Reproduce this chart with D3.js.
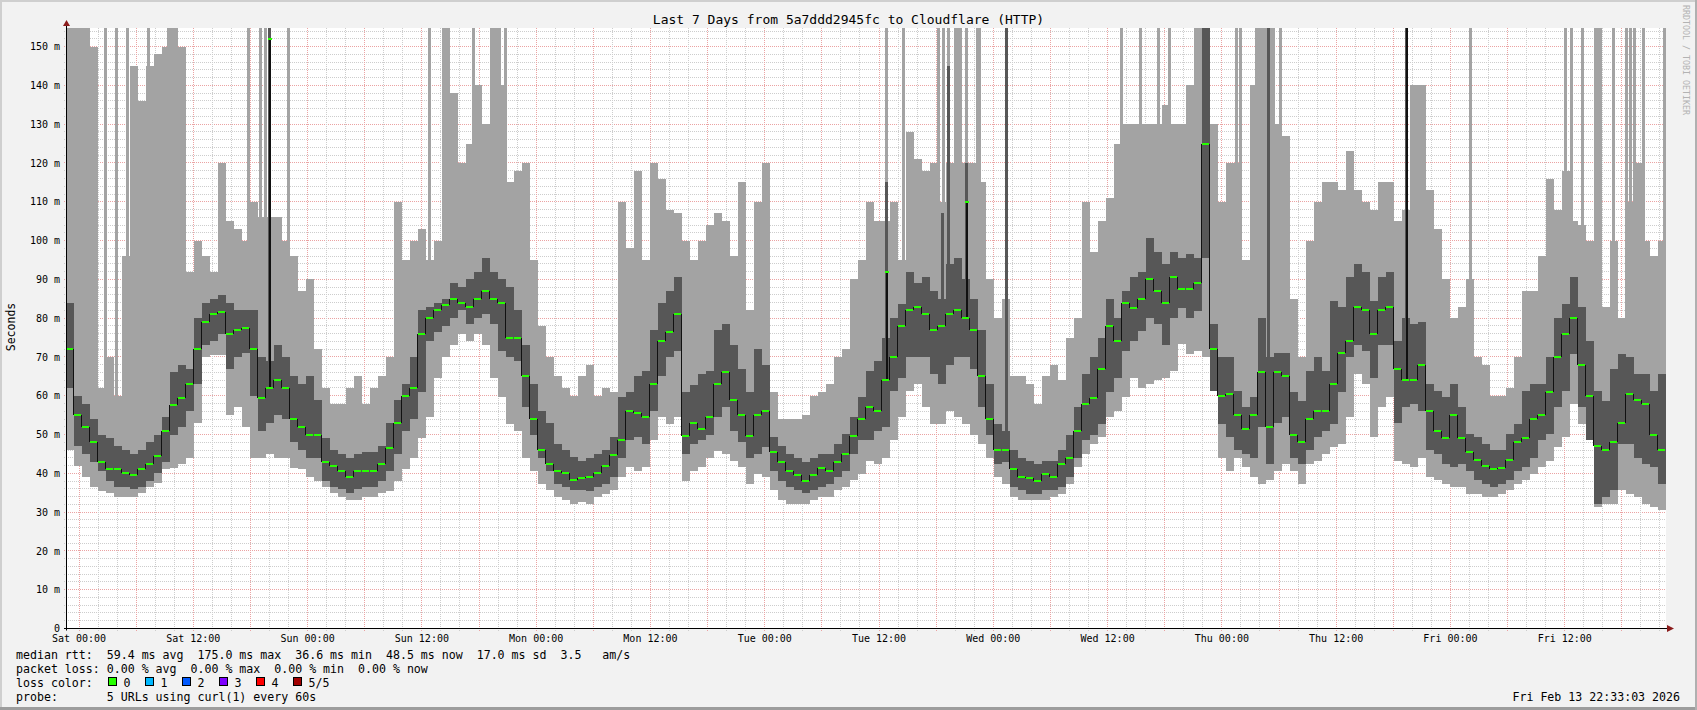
<!DOCTYPE html>
<html>
<head>
<meta charset="utf-8">
<title>SmokePing - Last 7 Days</title>
<script src="https://cdn.jsdelivr.net/npm/d3@7/dist/d3.min.js"></script>
<style>
html,body{margin:0;padding:0;background:#f2f2f2;overflow:hidden;}
svg{display:block;}
text{font-family:"DejaVu Sans Mono",monospace;white-space:pre;}
</style>
</head>
<body>
<svg id="chart" width="1697" height="710"></svg>
<script>
// ---------------- DATA ----------------
const chartTitle = "Last 7 Days from 5a7ddd2945fc to Cloudflare (HTTP)";
const startTime = new Date(2026, 1, 6, 22, 38, 0);
const endTime = new Date(2026, 1, 13, 22, 38, 0);
const yMax = 154.8;                       // ms at top of canvas
const yTickValues = [0,10,20,30,40,50,60,70,80,90,100,110,120,130,140,150];

// 200 time bins (~50 min each), values in ms
const rttMedian = [
72,55,52,48,43,41,41,40,39.5,41,
42.5,44.5,51,57.5,59.5,63,72,79,81,81.5,
76,77,77.5,72,59.5,62,64,62,54,52,
50,50,43,42,40.5,39,40.5,40.5,40.5,42.5,
46.5,53,60,62,76,80,82,83.5,85,84,
83,85,87,85,84,75,75,65,54,46,
42.5,40.5,40,38.3,38.8,39,40.2,41.8,44.6,48.5,
56,55.5,54.5,63,74,76.5,81,49.5,53,51.5,
54.5,63,66,59,55,49.5,55,56,45.5,43,
40.5,39.5,38,39.6,41.3,40.5,43,45,49.7,54,
57,56,64,70,78,82,83,81,77,78,
81,82,80,77,65,54,46,46,41,39,
38.8,38,39.8,39,42.5,44,51,58,59.4,67,
78,74,84,82.5,85,90,87,84,90.5,87.5,
87.5,89,125,72,60,60.5,55,51.5,55,66,
52,66,65,50,48,54,56,56,63,71,
74,83,82,76,82,83,67,64,64,68,
56,51,49,55,49,45.5,43.5,42,41,41.5,
43.5,48,49,54,55,61,70,76,80,68,
60,47,46,48,53,60.5,59,58,50,46
];
const smokeInnerHi = [
84,60,58,54,50,49,47,46,45,46,
48,50,54.5,66,68,67,80,84,85,86,
84,82,82,82,70,69,73,70,65,63,
65,59,49,46,45,44,45,45.5,45.5,47,
53,59,63,70,82,83,84,85,89,88,
90,92,95.5,92,90,88,82,73,63,56,
53,47.6,46,44.2,43.3,44,45,46,49.3,59.6,
61,65,66.5,77,84,87,90.5,61,62.8,65.5,
66.5,77,78.4,73,67,61,72,68,49.3,47,
45,44,43,44,45,45,47.6,50.2,54.5,59.6,
66.5,69,75,80,83.6,92,89,90.5,87,85,
94,95.5,90,85,77,63,52.7,51,46,44,
43.3,42.5,43.3,43.3,46,50,57,65.6,70,75,
85,80,87,90.5,92,100.7,97,94,97,95.6,
96.5,95.6,155,78.4,70,70,61.3,57,59.6,80,
70,71,71,61,58.7,66.5,70,66.5,84.5,83,
90.5,94,92,84.5,90.5,92,74,80,78.4,79,
63,61.3,59.6,63,57,50.2,49.3,47.6,46,46,
50.2,52.7,61.3,63,63,70,80,83.6,90.5,83,
74,61.3,58.7,67,70.7,70,65.6,65.6,61.3,65.6
];
const smokeInnerLo = [
62,47,45,43,40.5,38,36.5,36.5,36,36.5,
38,40,43,50,52,56,63,73,74,76,
67,70,71,60,51,53,55,54,48,46,
44,44,38,36.5,36,35,36,36.5,36.5,38,
40.5,45,51,54,61,74,76.5,78,80,82,
78.5,80,81,78.5,71.5,70,69,57,50,44,
40.5,37.3,36.5,35.6,35.6,35.5,36.5,37.3,39,44,
48.5,49.3,47.6,56,65,70,71.5,45,47.6,48.5,
50,54.5,57,51,48,44,45,46.7,40.7,38,
36.5,35.6,35,35.6,36.5,37.3,39,40.7,45,48.5,
48.5,51,52,61.3,64.7,70,70,70,65.6,63,
68,70,70,67,57,50,42.5,43,36.5,35.6,
34.8,34.8,35.6,35.6,36.5,39,44,48.5,50,52.7,
61,64.7,71.6,74,76.7,80,78.4,73,80,82.7,
80,81.9,95.6,61.3,52.7,49.3,46,45,44,52,
42.5,53,54.5,44,42.5,46,49.3,51,52.7,61,
70,73,71.6,64.7,73,73,53,57,58,56,
46,45,42.5,41.6,42.5,40.7,38.2,37.3,36.5,37.3,
38.2,40.7,41.6,44,48.5,50.2,57,61.3,70.7,57,
48.5,32.2,33.9,35.6,47.6,47.6,44,42.5,41.6,37.3
];
const smokeMin = [
46,42,39,36.5,35.5,35,34,34,34,35,
36.5,37.5,41,41.5,42.5,44,53,70,70.5,70.5,
55,57,52,44,44,45,44,44,41.5,41,
39,38,36.5,35,34,33,33,34,34,35,
35.5,38,41,44,49,54.5,64.5,70,73,76,
74,76,73,64.7,59.6,52.7,51,44,40.7,37.3,
35.6,33.9,33,32.2,32.6,32.2,33.9,34.7,35.6,39,
41.6,40.7,41.6,48.5,54.5,52.7,54.5,38,40.7,41.6,
44,45.8,45,43.3,41.6,37.3,39.9,39,35.6,33,
32.2,32.2,32.2,33,33.9,33.9,35.6,36.5,38.2,39.9,
43.3,42.5,44,48.5,54.5,61.3,63,57,52.7,52.7,
56,54.5,52.7,50,47.6,44,39,37.3,34,33,
33,33,33,34,34.8,37.3,41.6,45,47.6,49.3,
54.5,56,59.6,64.7,62,63,64,64.7,66.5,73.3,
70.7,71.6,70,61.3,44,40.7,44,41.6,39,37.3,
38.2,40.7,42.5,40.7,37.3,42.5,43.3,45,46.7,47.6,
54.5,65.6,63,49.3,57,59.6,43.3,42.5,41.6,44,
39,38.2,37.3,36.5,36.5,34.8,34.8,34,34,34.8,
35.6,37.3,38.2,39.9,41.6,43.3,46.7,49.3,57.9,52.7,
50.2,31.4,32.2,32.2,35.6,34.8,34,32.2,31.4,30.5
];
const smokeMax = [
155,155,155,150,62,70,60,96,145,136,
145,148,150,155,150,92,100,96,92,120,
105,103,100,110,106,106,106,100,96,87,
90,72,62,58,58,62,65,58,62,65,
70,110,95,100,103,95,100,155,138,120,
125,140,130,155,140,115,118,120,95,78,
70,65,62,60,65,68,60,62,61,110,
98,118,95,120,116,108,107,100,95,100,
104,107,105,96,115,82,110,120,61,54,
54,54,55,60,61,63,70,72,90,95,
110,105,105,110,95,128,121,118,120,110,
120,155,120,120,115,90,80,85,65,65,
63,58,65,68,64,75,80,110,97,105,
111,125,130,130,130,130,130,135,130,130,
140,155,155,130,110,120,120,95,140,155,
155,130,127,85,70,100,110,115,115,113,
123,113,110,108,115,115,105,108,140,140,
113,103,90,80,83,90,70,68,60,60,
62,70,87,87,96,116,108,118,105,104,
100,155,83,100,80,110,120,100,96,100
];
// thin smoke spikes reaching the top of the graph (hours since start)
const smokeSpikeHours = [4.17,5.25,6.41,8.66,10.76,19.18,20.37,20.98,21.32,23.31,38.17,42.74,45.47,46.16,
  86.10,87.95,91.61,92.16,92.61,94.50,95.66,95.87,110.78,112.77,114.66,115.82,122.85,123.33,124.95,
  126.74,127.47,147.42,157.40,158.03,159.18,162.44,163.80,164.22,164.64,165.59,167.79];
// thin dark (inner smoke) spikes: hour, top value (ms), median peak (ms, or null)
const darkSpikeHours = [21.32, 86.10, 92.00, 92.61, 94.50, 98.70, 126.16, 140.70];
const darkSpikeTop   = [155, 115, 107, 145, 120, 155, 155, 155];
const darkSpikeMedian= [152, 92, null, null, 110, null, null, 160];

const legendRtt = "median rtt:  59.4 ms avg  175.0 ms max  36.6 ms min  48.5 ms now  17.0 ms sd  3.5   am/s";
const legendLoss = "packet loss: 0.00 % avg  0.00 % max  0.00 % min  0.00 % now";
const legendColorTitle = "loss color:";
const lossLabels = ["0","1","2","3","4","5/5"];
const lossColors = ["#26ff00","#00b8ff","#0059ff","#7e00ff","#ff0000","#a10000"];
const legendProbe = "probe:       5 URLs using curl(1) every 60s";
const stampText = "Fri Feb 13 22:33:03 2026";
const watermark = "RRDTOOL / TOBI OETIKER";
const yAxisTitle = "Seconds";

// ---------------- DRAWING ----------------
const W = 1697, H = 710;
const P = {left: 66, right: 1666, top: 28, bottom: 628.5};
const svg = d3.select("#chart");
const x = d3.scaleTime().domain([startTime, endTime]).range([P.left, P.right]);
const y = d3.scaleLinear().domain([0, yMax]).range([P.bottom, P.top]);
const n = rttMedian.length;
const binMs = (endTime - startTime) / n;
const bx = i => x(new Date(+startTime + i * binMs));
const hx = h => x(new Date(+startTime + h * 3600e3));
const binOfHour = h => Math.min(n - 1, Math.floor(h * 3600e3 / binMs));
const cy = v => y(Math.min(v, yMax));

// background + frame
svg.append("rect").attr("width", W).attr("height", H).attr("fill", "#f2f2f2");
svg.append("rect").attr("x",0).attr("y",0).attr("width",W).attr("height",2).attr("fill","#cfcfcf");
svg.append("rect").attr("x",0).attr("y",0).attr("width",2).attr("height",H).attr("fill","#cfcfcf");
svg.append("rect").attr("x",0).attr("y",H-3).attr("width",W).attr("height",3).attr("fill","#9d9d9d");
svg.append("rect").attr("x",W-2).attr("y",0).attr("width",2).attr("height",H).attr("fill","#b0b0b0");

// canvas
svg.append("rect").attr("x", P.left).attr("y", P.top).attr("width", P.right - P.left)
  .attr("height", P.bottom - P.top).attr("fill", "#ffffff");

svg.append("defs").append("clipPath").attr("id","clip").append("rect")
  .attr("x", P.left).attr("y", P.top).attr("width", P.right - P.left).attr("height", P.bottom - P.top);

// grid
const grid = svg.append("g").attr("shape-rendering","crispEdges");
const hVals = d3.range(2, yMax, 2);
hVals.forEach(v => {
  const major = Math.round(v) % 10 === 0;
  const yy = Math.floor(y(v)) + 0.5;
  grid.append("line").attr("x1", P.left - 2).attr("x2", P.right).attr("y1", yy).attr("y2", yy)
    .attr("stroke", major ? "#eba3a3" : "#cdcdcd").attr("stroke-dasharray", "1,1");
});
const vTimes = d3.timeHour.every(2).range(startTime, endTime);
vTimes.forEach(t => {
  const major = t.getHours() % 6 === 0;
  const xx = Math.floor(x(t)) + 0.5;
  grid.append("line").attr("x1", xx).attr("x2", xx).attr("y1", P.top).attr("y2", P.bottom + 2)
    .attr("stroke", major ? "#eba3a3" : "#cdcdcd").attr("stroke-dasharray", "1,1");
});

// smoke
const data = svg.append("g").attr("clip-path","url(#clip)").attr("shape-rendering","crispEdges");
const bins = d3.range(n);
data.selectAll("rect.outer").data(bins).join("rect").attr("class","outer")
  .attr("x", i => bx(i)).attr("width", i => bx(i + 1) - bx(i))
  .attr("y", i => cy(smokeMax[i])).attr("height", i => cy(smokeMin[i]) - cy(smokeMax[i]))
  .attr("fill", "#a3a3a3");
data.selectAll("rect.spk").data(smokeSpikeHours).join("rect").attr("class","spk")
  .attr("x", h => hx(h) - 1.5).attr("width", 3)
  .attr("y", P.top).attr("height", h => cy(smokeInnerHi[binOfHour(h)]) - P.top)
  .attr("fill", "#a3a3a3");
data.selectAll("rect.inner").data(bins).join("rect").attr("class","inner")
  .attr("x", i => bx(i)).attr("width", i => bx(i + 1) - bx(i))
  .attr("y", i => cy(smokeInnerHi[i])).attr("height", i => cy(smokeInnerLo[i]) - cy(smokeInnerHi[i]))
  .attr("fill", "#575757");
darkSpikeHours.forEach((h, k) => {
  const b = binOfHour(h);
  data.append("rect").attr("x", hx(h) - 1).attr("width", 3)
    .attr("y", cy(darkSpikeTop[k])).attr("height", cy(smokeInnerLo[b]) - cy(darkSpikeTop[k]))
    .attr("fill", "#575757");
});

// median: black step connectors + green loss-colour segments
let path = "";
for (let i = 0; i < n - 1; i++) {
  const xx = Math.round(bx(i + 1)) - 0.5;
  path += `M${xx},${cy(rttMedian[i])}V${cy(rttMedian[i + 1])}`;
}
data.append("path").attr("d", path).attr("stroke", "#111").attr("stroke-width", 1).attr("fill", "none");
darkSpikeHours.forEach((h, k) => {
  const pk = darkSpikeMedian[k];
  if (pk === null) return;
  const b = binOfHour(h);
  const xx = Math.round(hx(h)) + 0.5;
  data.append("line").attr("x1", xx).attr("x2", xx).attr("y1", cy(rttMedian[b])).attr("y2", cy(pk))
    .attr("stroke", "#111").attr("stroke-width", 2);
  if (pk < yMax) data.append("rect").attr("x", xx - 2).attr("y", cy(pk) - 1).attr("width", 4).attr("height", 2)
    .attr("fill", lossColors[0]);
});
data.selectAll("rect.med").data(bins).join("rect").attr("class","med")
  .attr("x", i => bx(i)).attr("width", i => bx(i + 1) - bx(i) - 1)
  .attr("y", i => Math.round(cy(rttMedian[i])) - 1).attr("height", 2)
  .attr("fill", lossColors[0]);

// axes
const ax = svg.append("g");
ax.append("line").attr("x1", P.left - 2).attr("x2", P.right + 2).attr("y1", 628.5).attr("y2", 628.5)
  .attr("stroke", "#000").attr("stroke-width", 1);
ax.append("line").attr("x1", P.left + 0.5).attr("x2", P.left + 0.5).attr("y1", P.bottom + 2).attr("y2", P.top - 3)
  .attr("stroke", "#000").attr("stroke-width", 1);
ax.append("path").attr("d", `M${P.right + 1},${625}L${P.right + 8},${628.5}L${P.right + 1},${632}Z`).attr("fill", "#8b1c1c");
ax.append("path").attr("d", `M${P.left - 3},${P.top - 2}L${P.left + 0.5},${P.top - 8}L${P.left + 4},${P.top - 2}Z`).attr("fill", "#8b1c1c");

// y tick labels
const yFmt = v => v === 0 ? "0" : `${v} m`;
ax.selectAll("text.yl").data(yTickValues).join("text").attr("class","yl")
  .attr("x", 60).attr("y", v => y(v)).attr("dy", "0.36em").attr("text-anchor", "end")
  .attr("font-size", "10px").attr("fill", "#000").text(yFmt);

// x tick labels every 12 hours
const xFmt = d3.timeFormat("%a %H:%M");
const labelTimes = d3.timeHour.every(12).range(startTime, endTime);
ax.selectAll("text.xl").data(labelTimes).join("text").attr("class","xl")
  .attr("x", t => x(t)).attr("y", 641.5).attr("text-anchor", "middle")
  .attr("font-size", "10px").attr("fill", "#000").text(xFmt);

// title
svg.append("text").attr("x", W / 2).attr("y", 24).attr("text-anchor", "middle")
  .attr("font-size", "13px").attr("fill", "#000").text(chartTitle);

// y axis title
svg.append("text").attr("transform", "translate(14.5,327) rotate(-90)").attr("text-anchor", "middle")
  .attr("font-size", "11.5px").attr("fill", "#000").text(yAxisTitle);

// watermark
svg.append("text").attr("transform", "translate(1683,5) rotate(90)").attr("text-anchor", "start")
  .attr("font-size", "8.3px").attr("fill", "#b3b3b3").text(watermark);

// legend
const lg = svg.append("g").attr("font-size", "11.6px").attr("fill", "#000");
lg.append("text").attr("x", 16).attr("y", 658.5).text(legendRtt);
lg.append("text").attr("x", 16).attr("y", 672.5).text(legendLoss);
lg.append("text").attr("x", 16).attr("y", 686.5).text(legendColorTitle);
lg.append("text").attr("x", 16).attr("y", 700.5).text(legendProbe);
lossLabels.forEach((lab, k) => {
  const bx0 = 108.5 + k * 37;
  lg.append("rect").attr("x", bx0).attr("y", 677.5).attr("width", 8).attr("height", 8)
    .attr("fill", lossColors[k]).attr("stroke", "#000").attr("stroke-width", 1);
  lg.append("text").attr("x", bx0 + 15).attr("y", 686.5).text(lab);
});
lg.append("text").attr("x", 1680).attr("y", 700.5).attr("text-anchor", "end").text(stampText);
</script>
</body>
</html>
